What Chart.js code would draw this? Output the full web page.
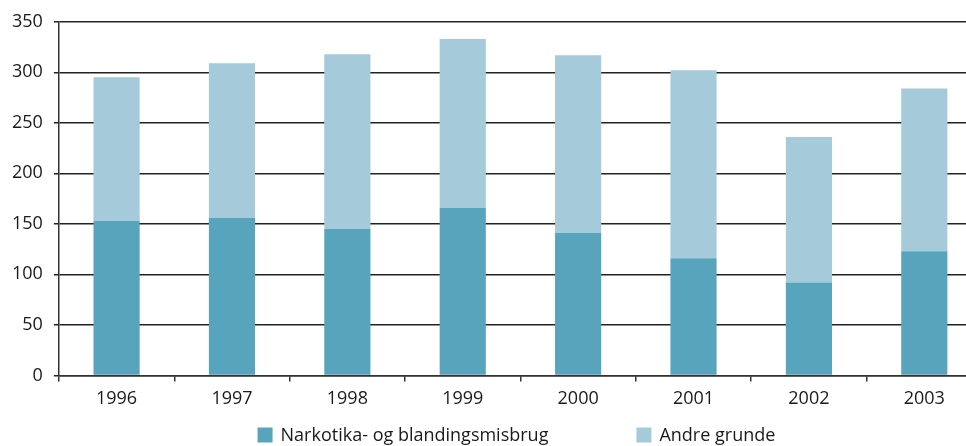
<!DOCTYPE html>
<html>
<head>
<meta charset="utf-8">
<script src="https://cdn.jsdelivr.net/npm/chart.js@4"></script>
<style>
  html, body { margin: 0; padding: 0; background: #fff; overflow: hidden; }
  #wrap { width: 990px; height: 446px; }
</style>
</head>
<body>
<div id="wrap"><canvas id="c" width="990" height="446"></canvas></div>
<script>
// Years on the category axis
const years = ['1996', '1997', '1998', '1999', '2000', '2001', '2002', '2003'];
// Cases due to narcotics and mixed abuse
const narkotika = [153, 156, 145, 166, 141, 116, 92, 123];
// Cases due to other reasons (stacked on top)
const andre = [142, 153, 173, 167, 176, 186, 144, 161];
// Series names
const seriesNames = ['Narkotika- og blandingsmisbrug', 'Andre grunde'];
// Value axis ticks
const yTicks = [0, 50, 100, 150, 200, 250, 300, 350];

const FONT = "'Open Sans', 'DejaVu Sans', sans-serif";
const INK = '#1a1a1a';

// Legend drawn below the axis, with wide spacing between the two items
const bottomLegend = {
  id: 'bottomLegend',
  afterDraw(chart) {
    const ctx = chart.ctx;
    const ds = chart.data.datasets;
    const box = 15, gap = 8, spacing = 88;
    ctx.save();
    ctx.font = '18px ' + FONT;
    ctx.textBaseline = 'middle';
    const widths = ds.map(d => box + gap + ctx.measureText(d.label).width);
    const total = widths.reduce((a, b) => a + b, 0) + spacing * (ds.length - 1);
    const area = chart.chartArea;
    let x = (area.left + area.right) / 2 - 4 - total / 2;
    const y = 435;
    ds.forEach((d, i) => {
      ctx.fillStyle = d.backgroundColor;
      ctx.fillRect(x, y - box / 2, box, box);
      ctx.fillStyle = INK;
      ctx.fillText(d.label, x + box + gap, y + 1);
      x += widths[i] + spacing;
    });
    ctx.restore();
  }
};

new Chart(document.getElementById('c'), {
  type: 'bar',
  data: {
    labels: years,
    datasets: [
      { label: seriesNames[0], data: narkotika, backgroundColor: '#58a4bd', borderWidth: 0 },
      { label: seriesNames[1], data: andre, backgroundColor: '#a5cad9', borderWidth: 0 }
    ]
  },
  options: {
    responsive: false,
    animation: false,
    layout: { padding: { left: 1, right: 8, top: 17, bottom: 29 } },
    datasets: { bar: { barPercentage: 0.4, categoryPercentage: 1.0 } },
    plugins: {
      legend: { display: false },
      tooltip: { enabled: false }
    },
    scales: {
      x: {
        stacked: true,
        offset: true,
        border: { display: true, color: '#333', width: 1.5 },
        grid: { offset: true, drawOnChartArea: false, drawTicks: true, tickLength: 6, color: '#333', lineWidth: 1.5 },
        ticks: { color: INK, font: { family: FONT, size: 18 }, padding: 7 }
      },
      y: {
        stacked: true,
        min: 0,
        max: 350,
        afterBuildTicks(axis) { axis.ticks = yTicks.map(v => ({ value: v })); },
        border: { display: true, color: '#333', width: 1.5 },
        grid: { color: '#222', lineWidth: 1.5, tickLength: 5, drawTicks: true },
        ticks: { color: INK, font: { family: FONT, size: 18 }, padding: 11 }
      }
    }
  },
  plugins: [bottomLegend]
});
</script>
</body>
</html>
